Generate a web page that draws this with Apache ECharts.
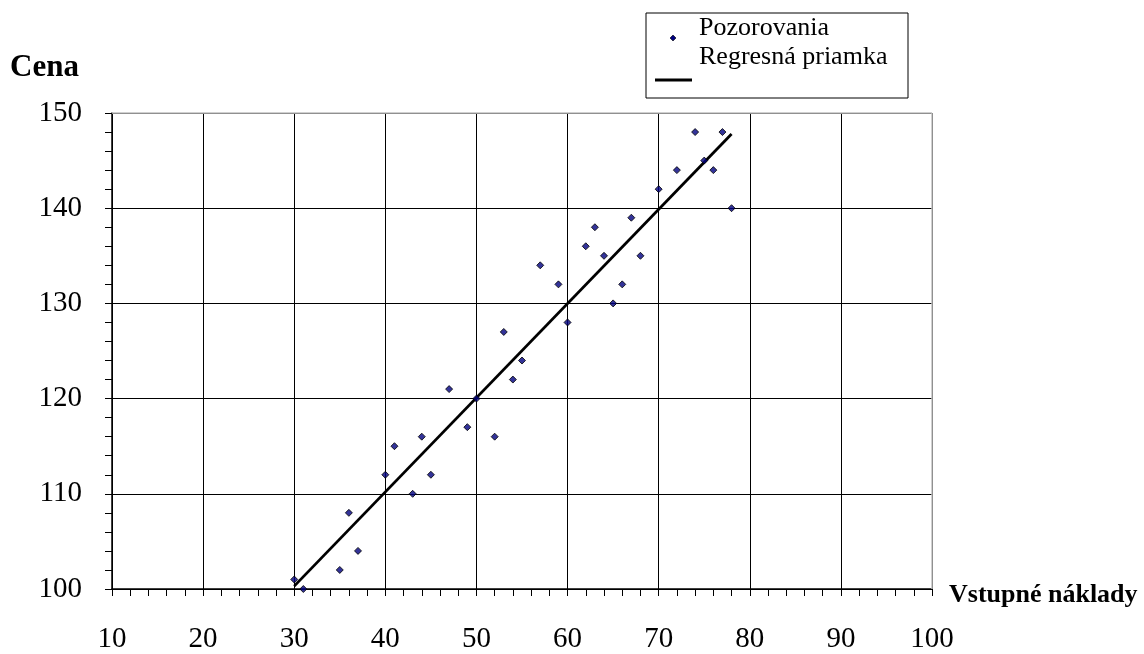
<!DOCTYPE html>
<html>
<head>
<meta charset="utf-8">
<script src="https://cdn.jsdelivr.net/npm/echarts@6/dist/echarts.min.js"></script>
<style>
html,body{margin:0;padding:0;background:#fff;}
#chart{width:1144px;height:654px;}
</style>
</head>
<body>
<div id="chart"></div>
<script>
var xValues = [30,31,35,36,37,40,41,43,44,45,47,49,50,52,53,54,55,57,59,60,62,63,64,65,66,67,68,70,72,74,75,76,77,78];
var yValues = [101,100,102,108,104,112,115,110,116,112,121,117,120,116,127,122,124,134,132,128,136,138,135,130,132,139,135,142,144,148,145,144,148,140];
var lineX = [30,78];
var lineY = [100.3,147.8];
var seriesNames = ['Pozorovania','Regresná priamka'];
var xTitle = 'Vstupné náklady';
var yTitle = 'Cena';

var scatterData = xValues.map(function(x,i){return [x,yValues[i]];});
var lineData = lineX.map(function(x,i){return [x,lineY[i]];});
var font = 'Liberation Serif';

var chart = echarts.init(document.getElementById('chart'));
chart.setOption({
  animation:false,
  backgroundColor:'#fff',
  grid:{left:112,right:212,top:113,bottom:65,show:false},
  xAxis:{
    type:'value',min:10,max:100,interval:10,
    axisLine:{show:true,onZero:false,lineStyle:{color:'#000',width:1.5}},
    axisTick:{show:true,inside:false,length:7,lineStyle:{color:'#000',width:1}},
    minorTick:{show:true,splitNumber:5,length:7,lineStyle:{color:'#000',width:1}},
    splitLine:{show:true,lineStyle:{color:'#000',width:1}},
    axisLabel:{margin:36,fontFamily:font,fontSize:29,color:'#000'}
  },
  yAxis:{
    type:'value',min:100,max:150,interval:10,
    axisLine:{show:true,onZero:false,lineStyle:{color:'#000',width:1.5}},
    axisTick:{show:true,inside:false,length:7,lineStyle:{color:'#000',width:1}},
    minorTick:{show:true,splitNumber:5,length:7,lineStyle:{color:'#000',width:1}},
    splitLine:{show:true,lineStyle:{color:'#000',width:1}},
    axisLabel:{margin:30,fontFamily:font,fontSize:29,color:'#000',padding:[8,0,0,0]}
  },
  series:[
    {name:seriesNames[1],type:'line',data:lineData,symbol:'none',
     lineStyle:{color:'#000',width:2.8},z:3},
    {name:seriesNames[0],type:'scatter',data:scatterData,symbol:'diamond',symbolSize:7,
     itemStyle:{color:'#000080',borderColor:'#000',borderWidth:1},z:4}
  ],
  graphic:[
    {type:'line',shape:{x1:112,y1:113,x2:932,y2:113},style:{stroke:'#c0c0c0',lineWidth:1.5},z:10},
    {type:'line',shape:{x1:932,y1:113,x2:932,y2:589},style:{stroke:'#c0c0c0',lineWidth:1.5},z:10},
    {type:'text',x:10,y:68,style:{text:yTitle,font:'bold 31px "Liberation Serif"',fill:'#000',verticalAlign:'middle'}},
    {type:'text',x:949,y:595,style:{text:xTitle,font:'bold 26px "Liberation Serif"',fill:'#000',verticalAlign:'middle'}},
    {type:'rect',shape:{x:646,y:13,width:262,height:85},style:{fill:'#fff',stroke:'#000',lineWidth:1},z:20},
    {type:'polygon',shape:{points:[[673,35],[676,38],[673,41],[670,38]]},style:{fill:'#000080',stroke:'#000',lineWidth:0.6},z:21},
    {type:'line',shape:{x1:655,y1:80,x2:692,y2:80},style:{stroke:'#000',lineWidth:3},z:21},
    {type:'text',x:699,y:28,style:{text:seriesNames[0],font:'26px "Liberation Serif"',fill:'#000',verticalAlign:'middle'},z:21},
    {type:'text',x:699,y:57,style:{text:seriesNames[1],font:'26px "Liberation Serif"',fill:'#000',verticalAlign:'middle'},z:21}
  ]
});
</script>
</body>
</html>
